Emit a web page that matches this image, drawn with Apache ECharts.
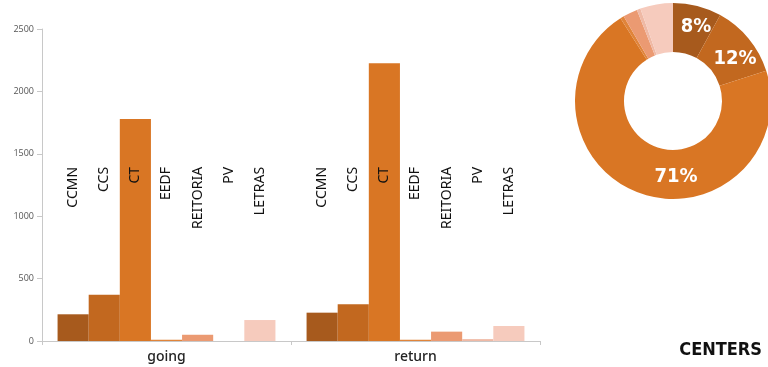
<!DOCTYPE html>
<html>
<head>
<meta charset="utf-8">
<script src="https://cdn.jsdelivr.net/npm/echarts@6/dist/echarts.min.js"></script>
<style>html,body{margin:0;padding:0;background:#fff}#c{width:768px;height:367px}</style>
</head>
<body>
<div id="c"></div>
<script>
// ---- data ----
const categories = ['going', 'return'];
const centers = ['CCMN', 'CCS', 'CT', 'EEDF', 'REITORIA', 'PV', 'LETRAS'];
const goingValues = [214, 371, 1779, 10, 50, 0, 168];
const returnValues = [227, 294, 2225, 10, 75, 15, 120];
const pieShare = [8, 12, 71, 0.6, 2.4, 0.6, 5.4];
const yTicks = [0, 500, 1000, 1500, 2000, 2500];
const titleText = 'CENTERS';

// ---- styles ----
const colors = ['#a75a1d', '#c2681f', '#d97624', '#e0843a', '#eb9a72', '#efb9a5', '#f6cbbd'];
const labelLevel = 1395;
const pieLabelShift = [[4, 0], [3, 7], [29, 4]];
const condensed = "'DejaVu Sans Condensed', 'Roboto', sans-serif";

const chart = echarts.init(document.getElementById('c'));

function labelY() {
  try {
    const p = chart.convertToPixel({ yAxisIndex: 0 }, labelLevel);
    if (isFinite(p)) return p;
  } catch (e) {}
  return 167;
}

const barSeries = centers.map((name, i) => ({
  type: 'bar',
  name: name,
  data: [goingValues[i], returnValues[i]],
  itemStyle: { color: colors[i] },
  barGap: '0%',
  barCategoryGap: '12.5%',
  label: {
    show: true,
    formatter: name,
    rotate: 90,
    align: 'right',
    verticalAlign: 'middle',
    color: '#111',
    fontSize: 14,
    fontFamily: 'Noto Sans'
  },
  labelLayout: function (p) {
    return { x: p.rect.x + p.rect.width / 2, y: labelY() };
  }
}));

const pieSeries = {
  type: 'pie',
  center: [673, 101],
  radius: [49, 98],
  startAngle: 90,
  clockwise: true,
  silent: true,
  data: centers.map((name, i) => ({
    name: name,
    value: pieShare[i],
    itemStyle: { color: colors[i] },
    label: { show: i < 3 }
  })),
  label: {
    position: 'inside',
    formatter: '{c}%',
    color: '#fff',
    fontSize: 20,
    fontWeight: 'bold',
    fontFamily: condensed
  },
  labelLine: { show: false },
  labelLayout: function (p) {
    const s = pieLabelShift[p.dataIndex] || [0, 0];
    return { dx: s[0], dy: s[1] };
  }
};

chart.setOption({
  animation: false,
  title: {
    text: titleText,
    right: 1,
    bottom: 3,
    textStyle: {
      fontSize: 18,
      fontWeight: 'bold',
      color: '#111',
      fontFamily: condensed
    }
  },
  grid: { left: 42, right: 228, top: 29, bottom: 26, containLabel: false },
  xAxis: {
    type: 'category',
    data: categories,
    axisLine: { lineStyle: { color: '#c8c8c8' } },
    axisTick: { show: true, length: 4, lineStyle: { color: '#c8c8c8' } },
    axisLabel: { fontSize: 14, fontWeight: 500, color: '#222', margin: 9, fontFamily: 'Noto Sans' }
  },
  yAxis: {
    type: 'value',
    min: yTicks[0],
    max: yTicks[yTicks.length - 1],
    interval: yTicks[1] - yTicks[0],
    splitLine: { show: false },
    axisLine: { show: true, lineStyle: { color: '#c8c8c8' } },
    axisTick: { show: true, length: 5, lineStyle: { color: '#c8c8c8' } },
    axisLabel: { fontSize: 9, color: '#555', margin: 8, fontFamily: 'Open Sans', formatter: v => String(v) }
  },
  series: barSeries.concat([pieSeries])
});
</script>
</body>
</html>
